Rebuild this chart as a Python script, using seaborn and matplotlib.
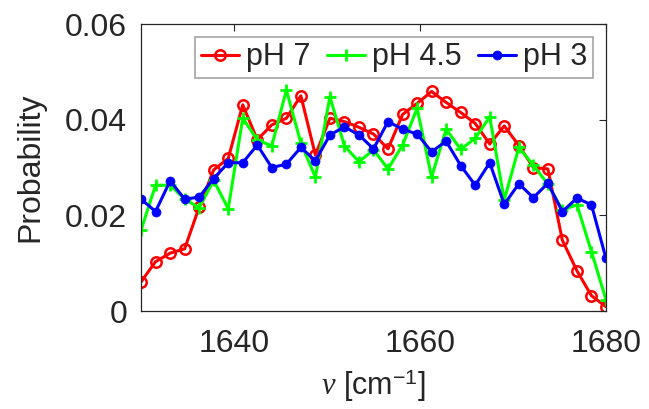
import numpy as np
import pandas as pd
import matplotlib
matplotlib.use("Agg")
import matplotlib.pyplot as plt
import seaborn as sns

# wavenumber grid (cm^-1)
wavenumber = [1630.0, 1631.56, 1633.13, 1634.69, 1636.25, 1637.81, 1639.38, 1640.94,
              1642.5, 1644.06, 1645.63, 1647.19, 1648.75, 1650.31, 1651.88, 1653.44,
              1655.0, 1656.56, 1658.13, 1659.69, 1661.25, 1662.81, 1664.38, 1665.94,
              1667.5, 1669.06, 1670.63, 1672.19, 1673.75, 1675.31, 1676.88, 1678.44, 1680.0]

ph7 = [0.0061, 0.0103, 0.0121, 0.0130, 0.0217, 0.0295, 0.0319, 0.0431,
       0.0358, 0.0389, 0.0403, 0.0450, 0.0326, 0.0403, 0.0396, 0.0384,
       0.0370, 0.0339, 0.0411, 0.0434, 0.0459, 0.0436, 0.0415, 0.0392,
       0.0349, 0.0387, 0.0346, 0.0300, 0.0297, 0.0148, 0.0084, 0.0032, 0.0009]

ph45 = [0.0169, 0.0263, 0.0263, 0.0234, 0.0216, 0.0273, 0.0214, 0.0403,
        0.0358, 0.0345, 0.0462, 0.0351, 0.0280, 0.0448, 0.0345, 0.0312,
        0.0337, 0.0297, 0.0347, 0.0424, 0.0280, 0.0380, 0.0338, 0.0361,
        0.0406, 0.0232, 0.0342, 0.0305, 0.0265, 0.0211, 0.0222, 0.0124, 0.0024]

ph3 = [0.0234, 0.0208, 0.0272, 0.0234, 0.0238, 0.0277, 0.0310, 0.0310,
       0.0347, 0.0300, 0.0307, 0.0342, 0.0314, 0.0368, 0.0385, 0.0368,
       0.0339, 0.0396, 0.0380, 0.0370, 0.0333, 0.0355, 0.0304, 0.0263,
       0.0310, 0.0223, 0.0266, 0.0237, 0.0267, 0.0208, 0.0236, 0.0222, 0.0110]

labels = ["pH 7", "pH 4.5", "pH 3"]
xticks = [1640, 1660, 1680]
yticks = [0, 0.02, 0.04, 0.06]
ytick_labels = ["0", "0.02", "0.04", "0.06"]

sns.set_theme(style="white")
plt.rcParams['font.family'] = ['Liberation Sans', 'DejaVu Sans']
plt.rcParams['mathtext.fontset'] = 'custom'
plt.rcParams['mathtext.rm'] = 'Liberation Sans'
plt.rcParams['mathtext.it'] = 'Liberation Serif:italic'

df = pd.DataFrame({
    "nu": wavenumber * 3,
    "p": ph7 + ph45 + ph3,
    "series": [labels[0]] * len(ph7) + [labels[1]] * len(ph45) + [labels[2]] * len(ph3),
})

fig = plt.figure(figsize=(6.49, 4.09), dpi=100)
ax = fig.add_axes([0.2173, 0.2396, 0.7164, 0.7017])

styles = {
    "pH 7": dict(color="#ff0000", marker="o", markerfacecolor="none", markeredgecolor="#ff0000",
                 markersize=7.5, markeredgewidth=1.8),
    "pH 4.5": dict(color="#00ff00", marker="+", markersize=8, markeredgewidth=2.0,
                   markeredgecolor="#00ff00"),
    "pH 3": dict(color="#0000ff", marker="o", markerfacecolor="#0000ff", markeredgecolor="#0000ff",
                 markersize=6.5, markeredgewidth=0.5),
}

for lab in labels:
    sub = df[df["series"] == lab]
    sns.lineplot(data=sub, x="nu", y="p", ax=ax, label=lab, linewidth=2.2, **styles[lab])

ax.set_xlim(1630, 1680)
ax.set_ylim(0, 0.06)
ax.set_xticks(xticks)
ax.set_xticklabels([str(t) for t in xticks])
ax.set_yticks(yticks)
ax.set_yticklabels(ytick_labels)
ax.tick_params(direction="in", top=True, right=True, length=5, width=0.8,
               labelsize=23, colors="#262626")
ax.tick_params(axis="x", pad=13)
ax.tick_params(axis="y", pad=10)
for s in ax.spines.values():
    s.set_color("#262626")
    s.set_linewidth(0.9)

ax.set_xlabel(r"$\nu$ [cm$^{-1}$]", fontsize=22, color="#262626", labelpad=6)
ax.set_ylabel("Probability", fontsize=23, color="#262626", labelpad=14)

leg = ax.legend(loc="upper right", bbox_to_anchor=(0.972, 0.955), ncol=3, fontsize=22,
                handlelength=1.25, handletextpad=0.22, columnspacing=0.55,
                borderpad=0.18, frameon=True, fancybox=False, borderaxespad=0)
leg.get_frame().set_edgecolor("#8c8c8c")
leg.get_frame().set_linewidth(1.2)

fig.savefig("out.png", dpi=100)
